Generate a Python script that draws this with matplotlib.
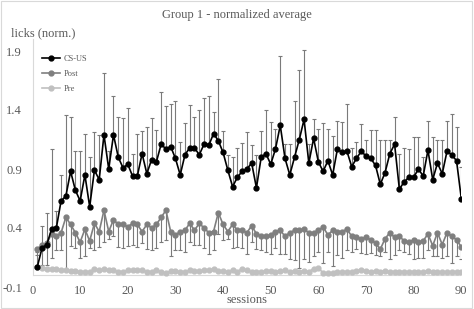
import numpy as np
import matplotlib
matplotlib.use("Agg")
import matplotlib.pyplot as plt
from matplotlib.patches import Rectangle

sessions = np.arange(1, 91)

cs_us = [0.07, 0.23, 0.26, 0.39, 0.40, 0.63, 0.67, 0.88, 0.72, 0.63,
         0.85, 0.58, 0.89, 0.81, 1.19, 0.90, 1.19, 1.00, 0.91, 0.94,
         0.84, 0.84, 1.03, 0.86, 0.98, 0.96, 1.11, 1.07, 1.09, 0.99,
         0.85, 1.02, 1.08, 1.08, 1.02, 1.11, 1.10, 1.20, 1.14, 1.04,
         0.89, 0.75, 0.83, 0.88, 0.90, 0.95, 0.74, 1.00, 1.03, 0.94,
         1.07, 1.27, 0.99, 0.85, 1.00, 1.15, 1.32, 0.95, 1.16, 0.96,
         0.88, 0.97, 0.85, 1.07, 1.04, 1.05, 0.92, 0.99, 1.05, 1.01,
         0.99, 0.93, 0.77, 0.87, 1.03, 1.11, 0.73, 0.79, 0.83, 0.83,
         0.90, 0.84, 1.06, 0.81, 0.95, 0.86, 1.05, 1.02, 0.97, 0.65]
cs_us_err = [0.13, 0.19, 0.27, 0.68, 0.14, 0.22, 0.69, 0.46, 0.33, 0.42,
             0.35, 0.42, 0.32, 0.38, 0.52, 0.15, 0.33, 0.34, 0.42, 0.48,
             0.19, 0.36, 0.19, 0.40, 0.35, 0.27, 0.44, 0.36, 0.36, 0.49,
             0.28, 0.27, 0.36, 0.26, 0.38, 0.39, 0.42, 0.18, 0.52, 0.18,
             0.13, 0.25, 0.25, 0.24, 0.31, 0.15, 0.28, 0.22, 0.37, 0.36,
             0.17, 0.59, 0.12, 0.26, 0.48, 0.59, 0.59, 0.16, 0.16, 0.28,
             0.41, 0.27, 0.33, 0.24, 0.26, 0.40, 0.16, 0.14, 0.23, 0.14,
             0.24, 0.30, 0.38, 0.28, 0.12, 0.23, 0.30, 0.29, 0.24, 0.34,
             0.27, 0.16, 0.25, 0.36, 0.20, 0.29, 0.26, 0.35, 0.29, 0.27]

post = [0.22, 0.26, 0.27, 0.35, 0.33, 0.36, 0.49, 0.43, 0.36, 0.28,
        0.39, 0.29, 0.44, 0.37, 0.55, 0.37, 0.47, 0.43, 0.43, 0.41,
        0.44, 0.43, 0.37, 0.43, 0.40, 0.43, 0.49, 0.55, 0.37, 0.34,
        0.37, 0.38, 0.44, 0.38, 0.44, 0.40, 0.36, 0.37, 0.53, 0.43,
        0.37, 0.43, 0.38, 0.38, 0.36, 0.42, 0.35, 0.33, 0.33, 0.34,
        0.37, 0.38, 0.33, 0.36, 0.38, 0.38, 0.39, 0.36, 0.36, 0.38,
        0.41, 0.34, 0.38, 0.37, 0.37, 0.39, 0.33, 0.32, 0.31, 0.32,
        0.30, 0.27, 0.22, 0.31, 0.36, 0.32, 0.33, 0.29, 0.28, 0.30,
        0.28, 0.29, 0.35, 0.25, 0.36, 0.26, 0.36, 0.33, 0.30, 0.24]
post_err = [0.05, 0.17, 0.18, 0.20, 0.12, 0.15, 0.44, 0.18, 0.13, 0.13,
            0.23, 0.06, 0.23, 0.13, 0.27, 0.06, 0.14, 0.19, 0.20, 0.16,
            0.18, 0.19, 0.10, 0.21, 0.19, 0.20, 0.21, 0.25, 0.21, 0.13,
            0.16, 0.18, 0.16, 0.12, 0.18, 0.17, 0.18, 0.16, 0.18, 0.13,
            0.06, 0.20, 0.14, 0.15, 0.18, 0.14, 0.13, 0.12, 0.13, 0.16,
            0.14, 0.20, 0.15, 0.22, 0.25, 0.32, 0.25, 0.25, 0.20, 0.18,
            0.31, 0.14, 0.30, 0.20, 0.22, 0.18, 0.13, 0.10, 0.12, 0.14,
            0.11, 0.10, 0.06, 0.11, 0.22, 0.15, 0.12, 0.09, 0.10, 0.16,
            0.13, 0.14, 0.14, 0.09, 0.20, 0.11, 0.20, 0.23, 0.14, 0.10]

pre = [0.07, 0.06, 0.055, 0.05, 0.05, 0.04, 0.04, 0.035, 0.035, 0.03,
       0.03, 0.03, 0.05, 0.04, 0.05, 0.04, 0.04, 0.03, 0.03, 0.04,
       0.04, 0.04, 0.04, 0.03, 0.03, 0.04, 0.03, 0.015, 0.035, 0.035,
       0.03, 0.03, 0.04, 0.035, 0.035, 0.04, 0.04, 0.055, 0.035, 0.035,
       0.03, 0.045, 0.03, 0.055, 0.04, 0.03, 0.03, 0.03, 0.035, 0.035,
       0.03, 0.035, 0.04, 0.03, 0.035, 0.03, 0.035, 0.03, 0.055, 0.06,
       0.02, 0.02, 0.02, 0.025, 0.03, 0.03, 0.03, 0.035, 0.045, 0.035,
       0.03, 0.035, 0.03, 0.035, 0.03, 0.03, 0.03, 0.03, 0.03, 0.03,
       0.025, 0.03, 0.035, 0.025, 0.03, 0.025, 0.025, 0.03, 0.03, 0.03]

x_ticks = [0, 10, 20, 30, 40, 50, 60, 70, 80, 90]
y_ticks = [-0.1, 0.4, 0.9, 1.4, 1.9]

plt.rcParams["font.family"] = ["Liberation Serif", "DejaVu Serif"]
text_color = "#595959"

fig = plt.figure(figsize=(4.74, 3.09), dpi=100)
fig.patch.set_facecolor("white")
ax = fig.add_axes([32.5 / 474, 22 / 309, 428.8 / 474, 247.8 / 309])

zeros = np.zeros(len(sessions))
err_color = "#7a7a7a"

# error bars: CS-US upward, Post downward
ax.errorbar(sessions, cs_us, yerr=[zeros, cs_us_err], fmt="none",
            ecolor=err_color, elinewidth=0.8, capsize=1.4, capthick=0.8, zorder=2)
ax.errorbar(sessions, post, yerr=[post_err, zeros], fmt="none",
            ecolor=err_color, elinewidth=0.8, capsize=1.4, capthick=0.8, zorder=2)

ax.plot(sessions, pre, color="#c0c0c0", marker="o", markersize=3.5,
        linewidth=1.2, label="Pre", zorder=3)
ax.plot(sessions, post, color="#7f7f7f", marker="o", markersize=3.5,
        linewidth=1.2, label="Post", zorder=4)
ax.plot(sessions, cs_us, color="black", marker="o", markersize=3.5,
        linewidth=1.2, label="CS-US", zorder=5)

ax.axhline(0, color="#d9d9d9", linewidth=0.8, zorder=1)

ax.set_xlim(0, 90)
ax.set_ylim(-0.1, 2.0)
ax.set_xticks(x_ticks)
ax.set_yticks(y_ticks)
ax.set_yticklabels([f"{v:.1f}" for v in y_ticks])
ax.tick_params(axis="both", length=0, labelsize=9, labelcolor=text_color)
ax.tick_params(axis="x", pad=-1.5)
ax.tick_params(axis="y", pad=7.5)

for side in ["top", "right", "bottom"]:
    ax.spines[side].set_visible(False)
ax.spines["left"].set_color("#d9d9d9")
ax.spines["left"].set_linewidth(0.8)
ax.spines["left"].set_bounds(0, 2.0)

handles, labels = ax.get_legend_handles_labels()
order = [2, 1, 0]
ax.legend([handles[i] for i in order], [labels[i] for i in order],
          loc="upper left", bbox_to_anchor=(0.005, 0.965), frameon=False,
          fontsize=6, handlelength=2.2, handletextpad=0.4, labelspacing=0.8,
          labelcolor=text_color)

fig.text(237 / 474, 1 - 15 / 309, "Group 1 - normalized average",
         ha="center", va="center", fontsize=9, color=text_color)
fig.text(11 / 474, 1 - 33 / 309, "licks (norm.)", ha="left", va="center",
         fontsize=9, color=text_color)
fig.text(247 / 474, 1 - 300 / 309, "sessions", ha="center", va="center",
         fontsize=9, color=text_color)

fig.patches.append(Rectangle((0.002, 0.003), 0.994, 0.993, transform=fig.transFigure,
                             fill=False, edgecolor="#d9d9d9", linewidth=0.8))

fig.savefig("out.png", dpi=100)
